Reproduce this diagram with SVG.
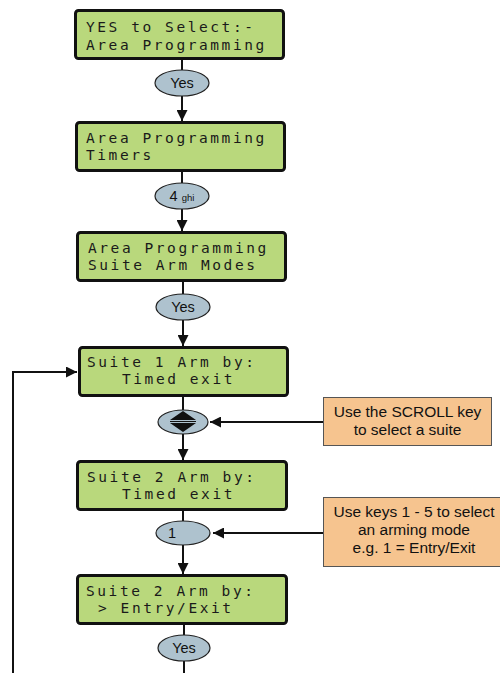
<svg xmlns="http://www.w3.org/2000/svg" width="500" height="673" viewBox="0 0 500 673">
<style>
.lcd{fill:#b9d87c;stroke:#111;stroke-width:3}
.lt{font-family:"DejaVu Sans Mono","Liberation Mono",monospace;font-size:14.5px;letter-spacing:2.57px;fill:#1a1a1a}
.key{fill:#aec2ce;stroke:#222;stroke-width:1.2}
.kt{font-family:"Liberation Sans",Arial,sans-serif;font-size:14.5px;fill:#111;text-anchor:middle}
.note{fill:#f6c48f;stroke:#555;stroke-width:1}
.nt{font-family:"Liberation Sans",Arial,sans-serif;font-size:15.5px;fill:#111;text-anchor:middle}
.ln{stroke:#111;stroke-width:2;fill:none}
</style>
<defs>
<marker id="ah" viewBox="0 0 10 10" refX="10" refY="5" markerWidth="5.5" markerHeight="5.5" orient="auto" markerUnits="strokeWidth">
<path d="M0,0 L10,5 L0,10 z" fill="#111"/>
</marker>
</defs>
<g id="connectors">
<line class="ln" x1="182" y1="59" x2="182" y2="70"/>
<line class="ln" x1="182" y1="96" x2="182" y2="121" marker-end="url(#ah)"/>
<line class="ln" x1="182" y1="171" x2="182" y2="183"/>
<line class="ln" x1="182" y1="209" x2="182" y2="231" marker-end="url(#ah)"/>
<line class="ln" x1="183" y1="281" x2="183" y2="294"/>
<line class="ln" x1="183" y1="320" x2="183" y2="346" marker-end="url(#ah)"/>
<line class="ln" x1="183" y1="396" x2="183" y2="410"/>
<line class="ln" x1="183" y1="434" x2="183" y2="460" marker-end="url(#ah)"/>
<line class="ln" x1="183" y1="511" x2="183" y2="521"/>
<line class="ln" x1="183" y1="545" x2="183" y2="574" marker-end="url(#ah)"/>
<line class="ln" x1="184" y1="625" x2="184" y2="635"/>
<line class="ln" x1="184" y1="661" x2="184" y2="673"/>
<polyline class="ln" points="13,673 13,372 77,372" marker-end="url(#ah)"/>
<line class="ln" x1="323" y1="422" x2="210" y2="422" marker-end="url(#ah)"/>
<line class="ln" x1="323" y1="533" x2="213" y2="533" marker-end="url(#ah)"/>
</g>
<g id="box1">
<rect class="lcd" x="75.5" y="10.5" width="208" height="48" rx="3"/>
<text class="lt" x="86" y="32">YES to Select:-</text>
<text class="lt" x="86" y="50">Area Programming</text>
</g>
<g id="key1">
<ellipse class="key" cx="182" cy="83" rx="27" ry="13"/>
<text class="kt" x="182" y="88">Yes</text>
</g>
<g id="box2">
<rect class="lcd" x="76.5" y="122.5" width="208" height="48" rx="3"/>
<text class="lt" x="86" y="143">Area Programming</text>
<text class="lt" x="86" y="160">Timers</text>
</g>
<g id="key2">
<ellipse class="key" cx="182" cy="196" rx="27" ry="13"/>
<text class="kt" x="182" y="201"><tspan>4 </tspan><tspan font-size="9.5">ghi</tspan></text>
</g>
<g id="box3">
<rect class="lcd" x="77.5" y="232.5" width="208" height="48" rx="3"/>
<text class="lt" x="88" y="253">Area Programming</text>
<text class="lt" x="88" y="270">Suite Arm Modes</text>
</g>
<g id="key3">
<ellipse class="key" cx="183" cy="307" rx="27" ry="13"/>
<text class="kt" x="183" y="312">Yes</text>
</g>
<g id="box4">
<rect class="lcd" x="79.5" y="347.5" width="208" height="48" rx="3"/>
<text class="lt" x="87" y="367">Suite 1 Arm by:</text>
<text class="lt" x="122" y="384">Timed exit</text>
</g>
<g id="key4">
<ellipse class="key" cx="183" cy="422" rx="25" ry="12"/>
<path d="M170,420 L183,411 L196,420 z M170,423 L196,423 L183,432 z" fill="#111"/>
<line x1="170" y1="421.5" x2="196" y2="421.5" stroke="#111" stroke-width="1"/>
</g>
<g id="note1">
<rect class="note" x="323.5" y="397.5" width="168" height="48"/>
<text class="nt" x="407.5" y="417">Use the SCROLL key</text>
<text class="nt" x="407.5" y="435">to select a suite</text>
</g>
<g id="box5">
<rect class="lcd" x="77.5" y="461.5" width="209" height="48" rx="3"/>
<text class="lt" x="87" y="482">Suite 2 Arm by:</text>
<text class="lt" x="122" y="499">Timed exit</text>
</g>
<g id="key5">
<ellipse class="key" cx="183" cy="533" rx="27" ry="12"/>
<text class="kt" x="172" y="538">1</text>
</g>
<g id="note2">
<rect class="note" x="323.5" y="497.5" width="180" height="69"/>
<text class="nt" x="414" y="517">Use keys 1 - 5 to select</text>
<text class="nt" x="414" y="535">an arming mode</text>
<text class="nt" x="414" y="553">e.g. 1 = Entry/Exit</text>
</g>
<g id="box6">
<rect class="lcd" x="77.5" y="575.5" width="209" height="48" rx="3"/>
<text class="lt" x="86" y="596">Suite 2 Arm by:</text>
<text class="lt" x="98" y="613">&gt; Entry/Exit</text>
</g>
<g id="key6">
<ellipse class="key" cx="184" cy="648" rx="26" ry="13"/>
<text class="kt" x="184" y="653">Yes</text>
</g>
</svg>
